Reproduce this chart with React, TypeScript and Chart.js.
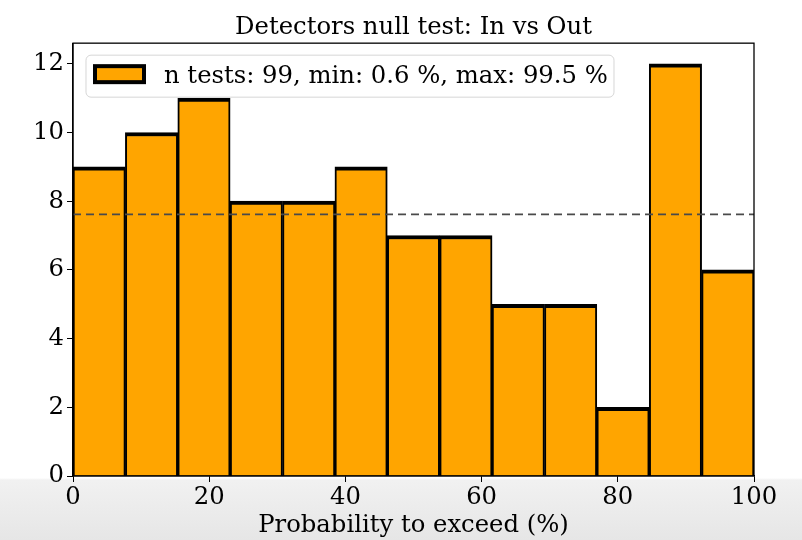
import React, { useEffect, useRef } from "react";
import { Chart, registerables } from "chart.js";

Chart.register(...registerables);

const binEdges = [0, 7.69, 15.38, 23.08, 30.77, 38.46, 46.15, 53.85, 61.54, 69.23, 76.92, 84.62, 92.31, 100];
const counts = [9, 10, 11, 8, 8, 9, 7, 7, 5, 5, 2, 12, 6];
const xTickValues = [0, 20, 40, 60, 80, 100];
const yTickValues = [0, 2, 4, 6, 8, 10, 12];
const titleText = "Detectors null test: In vs Out";
const xAxisLabel = "Probability to exceed (%)";
const legendLabel = "n tests: 99, min: 0.6 %, max: 99.5 %";

const meanCount = counts.reduce((s, v) => s + v, 0) / counts.length;

const FONT = "'DejaVu Serif', serif";
const FS = 24.3;
const BAR_FILL = "#FFA500";

const framePlugin = {
  id: "frameAndLegend",
  afterDatasetsDraw(chart: any) {
    const { ctx, chartArea: a } = chart;
    ctx.save();
    ctx.strokeStyle = "#000";
    ctx.lineWidth = 1.3;
    ctx.strokeRect(a.left, a.top, a.right - a.left, a.bottom - a.top);

    // legend box
    const lx = a.left + 13;
    const ly = a.top + 12;
    const lw = 528;
    const lh = 42;
    ctx.beginPath();
    (ctx as any).roundRect(lx, ly, lw, lh, 5);
    ctx.fillStyle = "rgba(255,255,255,0.8)";
    ctx.fill();
    ctx.strokeStyle = "rgba(204,204,204,0.8)";
    ctx.lineWidth = 1;
    ctx.stroke();

    // swatch
    ctx.fillStyle = BAR_FILL;
    ctx.fillRect(lx + 9, ly + 11, 49, 16);
    ctx.strokeStyle = "#000";
    ctx.lineWidth = 4;
    ctx.strokeRect(lx + 9, ly + 11, 49, 16);

    ctx.fillStyle = "#000";
    ctx.font = `${FS}px ${FONT}`;
    ctx.textBaseline = "alphabetic";
    ctx.textAlign = "left";
    ctx.fillText(legendLabel, lx + 78, ly + 28);
    ctx.restore();
  },
};

export default function App() {
  const canvasRef = useRef<HTMLCanvasElement | null>(null);

  useEffect(() => {
    const canvas = canvasRef.current;
    if (!canvas) return;
    const barData = counts.map((c, i) => ({ x: (binEdges[i] + binEdges[i + 1]) / 2, y: c }));
    const chart = new Chart(canvas, {
      type: "bar",
      data: {
        datasets: [
          {
            type: "line",
            label: "mean",
            data: [
              { x: binEdges[0], y: meanCount },
              { x: binEdges[binEdges.length - 1], y: meanCount },
            ],
            borderColor: "#4a4a4a",
            borderWidth: 1.6,
            borderDash: [8, 5],
            pointRadius: 0,
            order: 0,
          } as any,
          {
            type: "bar",
            label: legendLabel,
            data: barData,
            backgroundColor: BAR_FILL,
            borderColor: "#000",
            borderWidth: { top: 4, left: 2, right: 2, bottom: 0 },
            borderSkipped: false,
            barPercentage: 1,
            categoryPercentage: 1,
            grouped: false,
            order: 1,
          } as any,
        ],
      },
      options: {
        animation: false,
        responsive: false,
        maintainAspectRatio: false,
        layout: { padding: { left: 0, right: 48, top: 0, bottom: 0 } },
        plugins: {
          legend: { display: false },
          tooltip: { enabled: false },
          title: {
            display: true,
            fullSize: false,
            text: titleText,
            color: "#000",
            font: { family: FONT, size: FS, weight: "normal", lineHeight: 1.2 },
            padding: { top: 13, bottom: 1 },
          },
        },
        scales: {
          x: {
            type: "linear",
            min: 0,
            max: 100,
            offset: false,
            ticks: {
              color: "#000",
              font: { family: FONT, size: FS },
              padding: 1,
              maxRotation: 0,
              autoSkip: false,
            },
            afterBuildTicks: (scale: any) => {
              scale.ticks = xTickValues.map((v) => ({ value: v }));
            },
            grid: {
              offset: false,
              drawOnChartArea: false,
              drawTicks: true,
              tickLength: 6,
              tickColor: "#000",
              color: "#000",
            },
            border: { display: true, color: "#000", width: 1.3 },
            title: {
              display: true,
              text: xAxisLabel,
              color: "#000",
              font: { family: FONT, size: FS, lineHeight: 1.2 },
              padding: { top: 0, bottom: 0 },
            },
            afterFit: (scale: any) => {
              scale.height = 64;
            },
          },
          y: {
            type: "linear",
            min: 0,
            max: 12.6,
            ticks: {
              color: "#000",
              font: { family: FONT, size: FS },
              padding: 3,
              autoSkip: false,
            },
            afterBuildTicks: (scale: any) => {
              scale.ticks = yTickValues.map((v) => ({ value: v }));
            },
            grid: { drawOnChartArea: false, drawTicks: true, tickLength: 6, tickColor: "#000", color: "#000" },
            border: { display: true, color: "#000", width: 1.3 },
            afterFit: (scale: any) => {
              scale.width = 73;
            },
          },
        },
      },
      plugins: [framePlugin],
    } as any);
    return () => chart.destroy();
  }, []);

  return (
    <div
      style={{
        position: "fixed",
        left: 0,
        top: 0,
        width: 802,
        height: 540,
        background: "linear-gradient(to bottom, #ffffff 0px, #ffffff 478px, #f1f1f1 480px, #e6e6e6 540px)",
      }}
    >
      <canvas ref={canvasRef} width={802} height={540} style={{ display: "block" }} />
    </div>
  );
}
